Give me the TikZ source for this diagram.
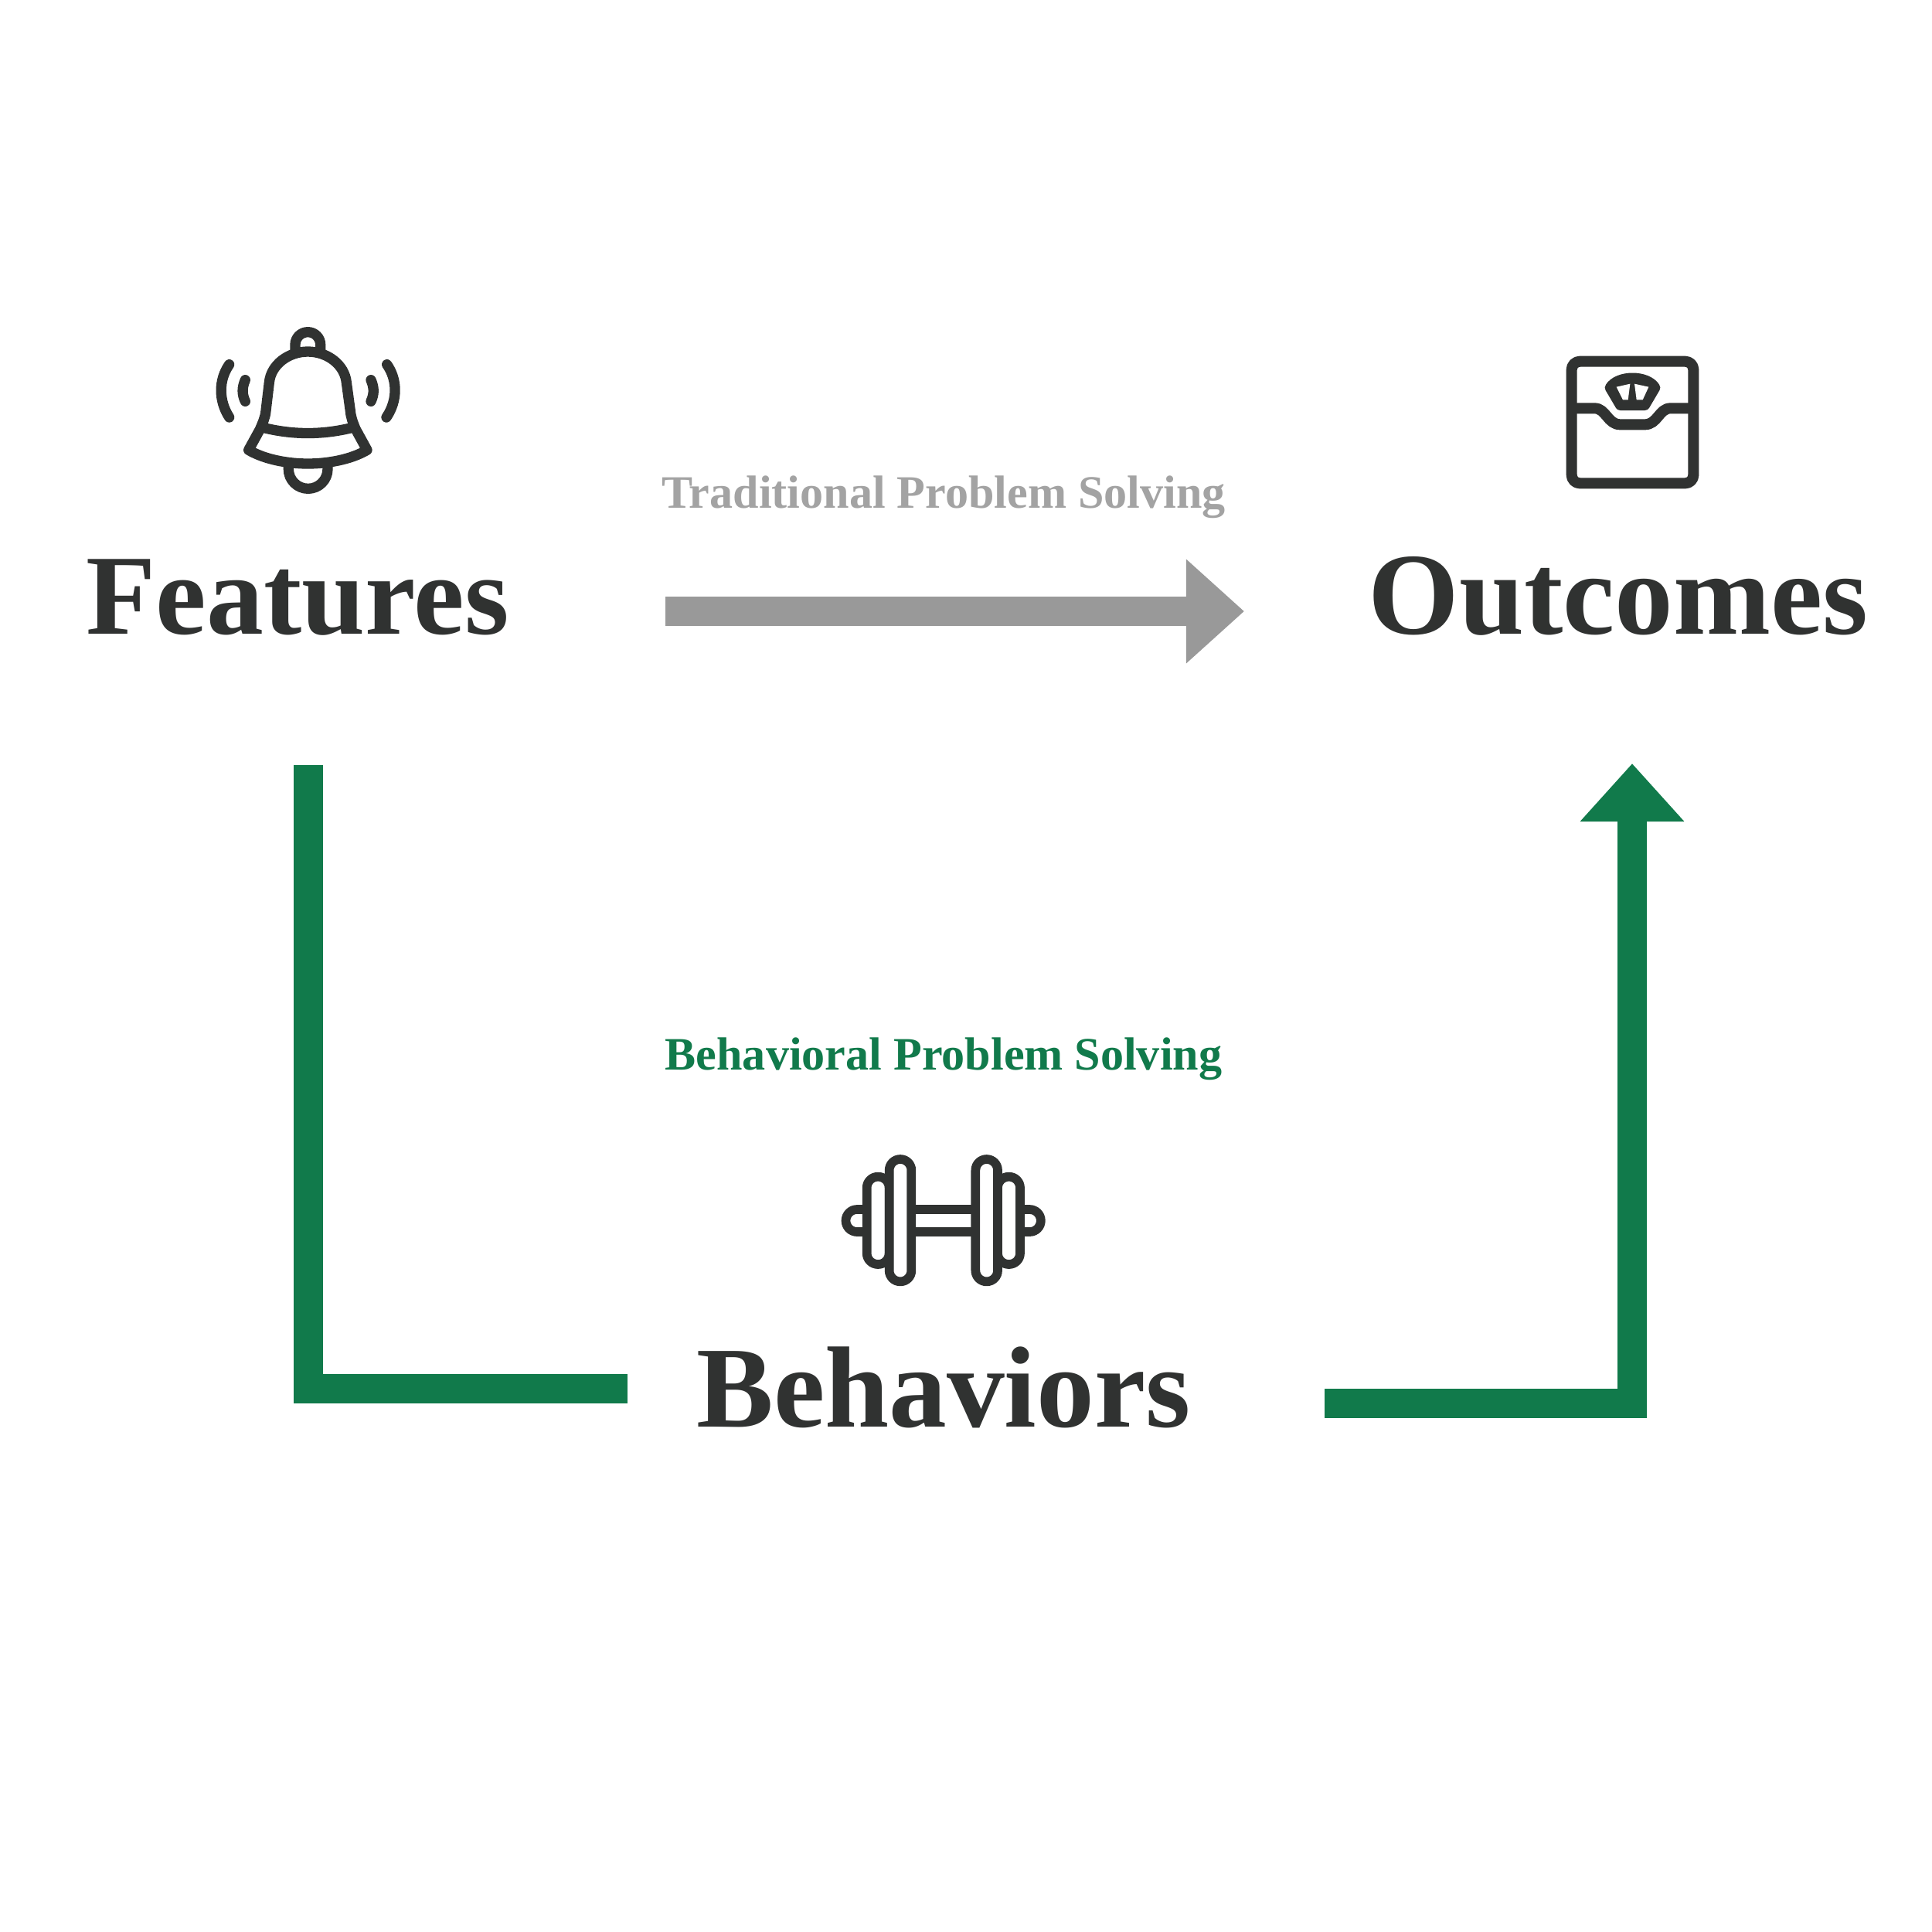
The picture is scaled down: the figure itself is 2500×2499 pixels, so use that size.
\documentclass[tikz,border=0pt]{standalone}
\usepackage{fontspec}
\setmainfont{Liberation Serif}
\usepackage{xcolor}
\usepackage{tikz}
\usetikzlibrary{
  positioning, arrows.meta, calc
}
\definecolor{bsdark}{HTML}{303231}
\definecolor{bsgreen}{HTML}{117A4B}
\definecolor{bsgrey}{HTML}{999999}
\definecolor{bslabel}{HTML}{A3A3A3}

\begin{document}
\begin{tikzpicture}[
  x=0.01cm, y=-0.01cm,
  heading/.style={
    anchor=base, inner sep=0pt, text=bsdark,
    font=\fontsize{#1}{50}\selectfont\bfseries
  },
  pathlabel/.style={
    anchor=base, inner sep=0pt, text=#1,
    font=\fontsize{17.1}{20}\selectfont\bfseries
  },
  route/.style={draw=#1, line width=0.38cm, line join=miter},
  routetip/.style={-{Triangle[length=0.75cm, width=1.3cm]}},
  icon/.style={
    draw=bsdark, line width=#1, line cap=round, line join=round
  },
  zoomed/.style={x=0.01cm/3, y=-0.01cm/3},
]
\useasboundingbox (0,0) rectangle (2500,2499);

% Headings
\node[heading=42] (features) at (385,820) {Features};
\node[heading=43] (outcomes) at (2094,820) {Outcomes};
\node[heading=42.5] (behaviors) at (1221,1846) {Behaviors};

% Labels
\node[pathlabel=bslabel] (traditional) at (1221,657) {Traditional Problem Solving};
\node[pathlabel=bsgreen] (behavioral) at (1221,1384) {Behavioral Problem Solving};

% Connector ends
\coordinate (featuresout) at (399,990);
\coordinate (featuresright) at (861,791);
\coordinate (outcomesleft) at (1610,791);
\coordinate (behaviorsleft) at (812,1797);
\coordinate (behaviorsright) at (1714,1816);
\coordinate (outcomesin) at (2112,988);

% Connectors
\draw[route=bsgrey, routetip] (featuresright) -- (outcomesleft);
\draw[route=bsgreen] (featuresout) |- (behaviorsleft);
\draw[route=bsgreen, routetip] (behaviorsright) -| (outcomesin);

% Bell
\begin{scope}[shift={(240,400)}, zoomed]
  \draw[icon=0.133cm, line cap=butt] (426,165) -- (426,138) arc[start angle=180, end angle=360, radius=49] -- (524,165);
  \draw[icon=0.133cm] (245,547) -- (290,465) .. controls (300,440) and (310,420) .. (312,395)
    -- (325,285) .. controls (332,215) and (400,165) .. (475,165)
    .. controls (550,165) and (618,215) .. (625,285) -- (640,395)
    .. controls (642,420) and (650,440) .. (660,465) -- (705,547)
    .. controls (640,585) and (550,600) .. (475,600)
    .. controls (400,600) and (310,585) .. (245,547) -- cycle;
  \draw[icon=0.133cm] (310,462) .. controls (420,488) and (530,488) .. (640,462);
  \draw[icon=0.133cm, line cap=butt] (400,605) -- (400,621) arc[start angle=180, end angle=0, radius=76] -- (552,605);
  \draw[icon=0.133cm] (170,215) .. controls (128,275) and (128,355) .. (170,420);
  \draw[icon=0.133cm] (232,275) .. controls (219,305) and (219,330) .. (232,358);
  \draw[icon=0.133cm] (782,215) .. controls (824,275) and (824,355) .. (780,420);
  \draw[icon=0.133cm] (720,275) .. controls (733,305) and (733,330) .. (720,358);
\end{scope}

% Scale
\begin{scope}[shift={(1980,430)}, zoomed]
  \draw[icon=0.14cm, rounded corners=0.107cm] (161,113) rectangle (634,586);
  \draw[icon=0.14cm, line cap=butt] (161,295) -- (250,295) .. controls (295,295) and (300,358) .. (350,358)
    -- (445,358) .. controls (495,358) and (500,295) .. (545,295) -- (634,295);
  \draw[icon=0.133cm, fill=bsdark] (310,215) .. controls (340,165) and (455,165) .. (485,215)
    -- (445,283) -- (350,283) -- cycle;
  \fill[white] (335,212) -- (388,200) -- (380,262) -- (360,262) -- cycle;
  \fill[white] (405,200) -- (460,212) -- (437,262) -- (413,262) -- cycle;
\end{scope}

% Barbell
\begin{scope}[shift={(1060,1470)}, zoomed]
  \draw[icon=0.117cm, rounded corners=0.143cm] (185,158) rectangle (272,498);
  \draw[icon=0.117cm, rounded corners=0.143cm] (693,158) rectangle (780,498);
  \draw[icon=0.117cm, fill=white, rounded corners=0.143cm] (272,90) rectangle (358,565);
  \draw[icon=0.117cm, fill=white, rounded corners=0.143cm] (607,90) rectangle (693,565);
  \draw[icon=0.117cm, line cap=butt] (358,285) -- (607,285);
  \draw[icon=0.117cm, line cap=butt] (358,372) -- (607,372);
  \draw[icon=0.117cm, line cap=butt] (185,285) -- (147,285) arc[start angle=270, end angle=90, radius=43.5] -- (185,372);
  \draw[icon=0.117cm, line cap=butt] (780,285) -- (817,285) arc[start angle=-90, end angle=90, radius=43.5] -- (780,372);
\end{scope}

\end{tikzpicture}
\end{document}
